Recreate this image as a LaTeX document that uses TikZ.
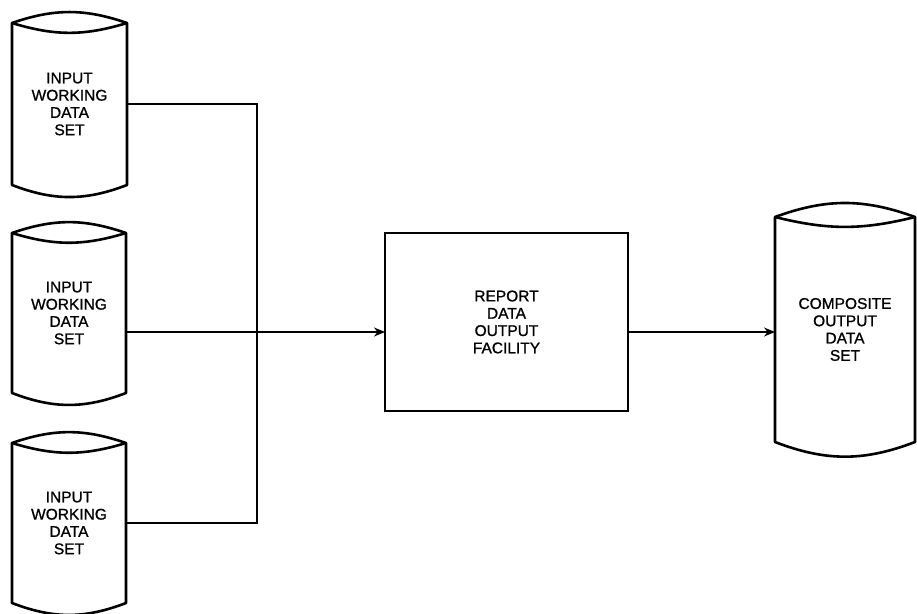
\documentclass[tikz,border=0pt]{standalone}
\usepackage{fontspec}
\setmainfont{Liberation Sans}[AutoFakeBold=1.0]
\usetikzlibrary{arrows.meta}
\tikzset{
  body/.style={draw=none, inner sep=0pt, outer sep=0pt, align=center,
    font=\fontsize{15.5}{17.3}\selectfont\bfseries},
  outline/.style={line width=2.6pt, line join=round},
  boxnode/.style={draw, line width=2.6pt, inner sep=0pt, outer sep=0pt, align=center,
    font=\fontsize{15.5}{17.3}\selectfont\bfseries},
  conn/.style={line width=1.5pt},
  arrowline/.style={line width=1.5pt, -{Stealth[length=11pt,width=9pt]}}
}
\newcommand\drawcyl[4]{%
  \draw[outline] (#1.north west) to[out=#2,in=180-#2] (#1.north east)
     -- (#1.south east) to[out=180+#4,in=-#4] (#1.south west) -- cycle;
  \draw[outline] (#1.north west) to[out=-#3,in=180+#3] (#1.north east);
}
\begin{document}
\begin{tikzpicture}[x=1pt,y=1pt]
\useasboundingbox (0,0) rectangle (917,613);
% cylinders
\node[body, minimum width=115pt, minimum height=162pt] (c1) at (69.5,509) {INPUT\\WORKING\\DATA\\SET};
\node[body, minimum width=114pt, minimum height=160pt] (c2) at (69,300) {INPUT\\WORKING\\DATA\\SET};
\node[body, minimum width=114pt, minimum height=160pt] (c3) at (69,90) {INPUT\\WORKING\\DATA\\SET};
\node[body, minimum width=140pt, minimum height=225pt] (c4) at (845,283.5) {COMPOSITE\\OUTPUT\\DATA\\SET};
\drawcyl{c1}{19}{17}{21}
\drawcyl{c2}{19}{17}{21}
\drawcyl{c3}{19}{17}{21}
\drawcyl{c4}{20}{14}{21}
% box
\node[boxnode, minimum width=243pt, minimum height=178pt] (box) at (506.5,291) {REPORT\\DATA\\OUTPUT\\FACILITY};
% connectors
\coordinate (j) at (257,281);
\draw[conn] (c1.east) -| (j);
\draw[conn] (c3.east) -| (j);
\draw[arrowline] (c2.east |- j) -- (box.west |- j);
\draw[arrowline] (box.east |- j) -- (c4.west |- j);
\end{tikzpicture}
\end{document}
